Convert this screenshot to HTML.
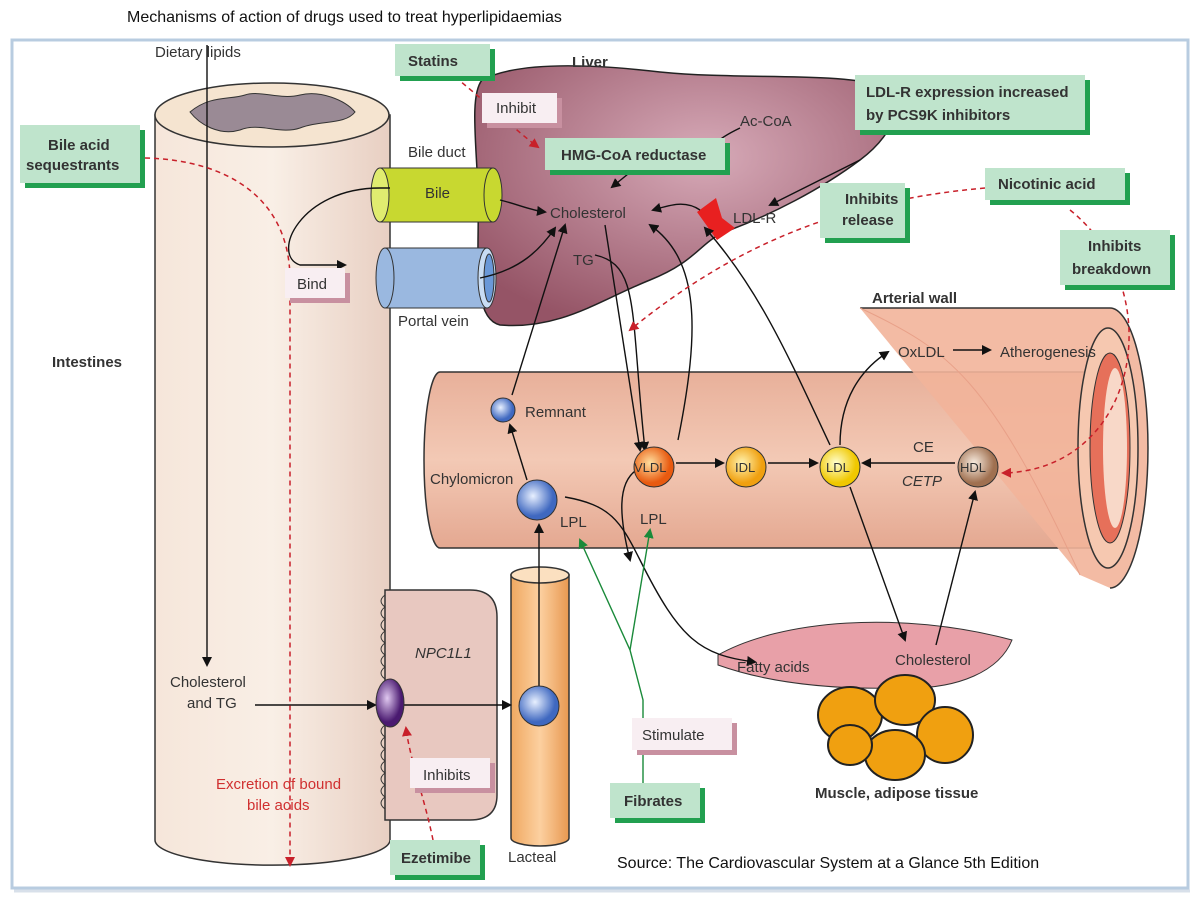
<!DOCTYPE html><html><head><style>body{margin:0;background:#fff}svg{display:block}text{font-family:"Liberation Sans",sans-serif;fill:#333}</style></head><body>
<svg width="1200" height="899" viewBox="0 0 1200 899" xmlns="http://www.w3.org/2000/svg">
<defs>
<marker id="a" markerWidth="10" markerHeight="10" refX="8" refY="5" orient="auto" markerUnits="userSpaceOnUse"><path d="M0,0 L10,5 L0,10 Z" fill="#111"/></marker>
<marker id="r" markerWidth="10" markerHeight="10" refX="8" refY="5" orient="auto" markerUnits="userSpaceOnUse"><path d="M0,0 L10,5 L0,10 Z" fill="#c8202a"/></marker>
<marker id="g" markerWidth="10" markerHeight="10" refX="8" refY="5" orient="auto" markerUnits="userSpaceOnUse"><path d="M0,0 L10,5 L0,10 Z" fill="#1a8a3a"/></marker>
<radialGradient id="liv" cx="0.55" cy="0.35" r="0.7"><stop offset="0" stop-color="#d7aab8"/><stop offset="1" stop-color="#955466"/></radialGradient>
<linearGradient id="int" x1="0" x2="1"><stop offset="0" stop-color="#f6e6da"/><stop offset="0.5" stop-color="#f9efe6"/><stop offset="1" stop-color="#e8cfc2"/></linearGradient>
<linearGradient id="ves" x1="0" y1="0" x2="0" y2="1"><stop offset="0" stop-color="#e8b09a"/><stop offset="0.5" stop-color="#f3c9b5"/><stop offset="1" stop-color="#e4a891"/></linearGradient>
<radialGradient id="blue" cx="0.4" cy="0.4"><stop offset="0" stop-color="#e8f0ff"/><stop offset="1" stop-color="#3f68c0"/></radialGradient>
<radialGradient id="or" cx="0.4" cy="0.4"><stop offset="0" stop-color="#ffe0a0"/><stop offset="1" stop-color="#e85a10"/></radialGradient>
<radialGradient id="idl" cx="0.4" cy="0.4"><stop offset="0" stop-color="#fff4b0"/><stop offset="1" stop-color="#f0a010"/></radialGradient>
<radialGradient id="ldl" cx="0.4" cy="0.4"><stop offset="0" stop-color="#ffffd0"/><stop offset="1" stop-color="#f0c800"/></radialGradient>
<radialGradient id="hdl" cx="0.4" cy="0.4"><stop offset="0" stop-color="#f8ece0"/><stop offset="1" stop-color="#a07050"/></radialGradient>
<radialGradient id="pur" cx="0.4" cy="0.4"><stop offset="0" stop-color="#e0c8f0"/><stop offset="1" stop-color="#4a1a70"/></radialGradient>
<linearGradient id="lac" x1="0" x2="1"><stop offset="0" stop-color="#f0a860"/><stop offset="0.5" stop-color="#fcd0a0"/><stop offset="1" stop-color="#e89850"/></linearGradient>
</defs>
<text x="127" y="22" font-size="16" style="fill:#111">Mechanisms of action of drugs used to treat hyperlipidaemias</text>
<rect x="12" y="40" width="1176" height="848" fill="#fff" stroke="#b8cce0" stroke-width="3"/>
<line x1="14" y1="891" x2="1190" y2="891" stroke="#d8e0ea" stroke-width="3"/>
<!-- intestine -->
<path d="M155,115 L155,840 A117,25 0 0 0 390,840 L390,115 Z" fill="url(#int)" stroke="#333" stroke-width="1.5"/>
<ellipse cx="272" cy="115" rx="117" ry="32" fill="#f5e4d0" stroke="#333" stroke-width="1.5"/>
<path d="M190,112 C210,95 230,100 245,95 C260,90 280,100 300,95 C320,90 345,100 355,112 C345,125 320,120 300,128 C280,135 260,122 240,130 C220,136 200,125 190,112Z" fill="#9a8a95" stroke="#333"/>
<!-- enterocyte box -->
<path d="M385,590 L470,590 Q497,590 497,617 L497,795 Q497,820 470,820 L385,820 Z" fill="#e8c8c0" stroke="#333" stroke-width="1.5"/>
<path d="M385,595 q-8,6 0,12 q-8,6 0,12 q-8,6 0,12 q-8,6 0,12 q-8,6 0,12 q-8,6 0,12 q-8,6 0,12" fill="none" stroke="#333"/>
<path d="M385,725 q-8,6 0,12 q-8,6 0,12 q-8,6 0,12 q-8,6 0,12 q-8,6 0,12 q-8,6 0,12 q-8,6 0,12" fill="none" stroke="#333"/>
<!-- lacteal -->
<path d="M511,575 L511,838 A29,8 0 0 0 569,838 L569,575 Z" fill="url(#lac)" stroke="#333" stroke-width="1.5"/>
<ellipse cx="540" cy="575" rx="29" ry="8" fill="#fbe0c0" stroke="#333" stroke-width="1.5"/>
<!-- liver -->
<path d="M482,80 C520,60 600,65 660,72 C740,80 830,72 880,85 C905,95 900,130 860,160 C820,190 770,215 730,230 C700,240 700,260 650,280 C600,300 560,330 500,325 C470,318 480,250 478,190 C476,140 470,95 482,80Z" fill="url(#liv)" stroke="#222" stroke-width="1.5"/>
<!-- vessel -->
<path d="M440,372 L1110,372 L1110,548 L440,548 A16,88 0 0 1 440,372Z" fill="url(#ves)" stroke="#333" stroke-width="1.5"/>
<!-- arterial wall -->
<path d="M860,308 L1110,308 A38,140 0 0 1 1110,588 L1080,575 Z" fill="#f2b49a" opacity="0.9"/>
<path d="M860,308 L1110,308 A38,140 0 0 1 1110,588" fill="none" stroke="#333" stroke-width="1.5"/>
<path d="M860,308 C950,350 990,380 1080,575" fill="none" stroke="#e8a088" stroke-width="1"/>
<ellipse cx="1108" cy="448" rx="30" ry="120" fill="#f6c8b0" stroke="#333" stroke-width="1.5"/>
<ellipse cx="1110" cy="448" rx="20" ry="95" fill="#e6705a" stroke="#333"/>
<ellipse cx="1115" cy="448" rx="12" ry="80" fill="#f8d8c8"/>
<!-- muscle/adipose -->
<path d="M718,655 C780,620 900,610 1012,640 C1000,670 960,690 900,688 C820,690 760,680 718,665Z" fill="#e8a0a8" stroke="#333"/>
<g fill="#f0a010" stroke="#222" stroke-width="2">
<ellipse cx="850" cy="715" rx="32" ry="28"/><ellipse cx="905" cy="700" rx="30" ry="25"/><ellipse cx="945" cy="735" rx="28" ry="28"/><ellipse cx="895" cy="755" rx="30" ry="25"/><ellipse cx="850" cy="745" rx="22" ry="20"/></g>
<!-- bile & portal vein tubes -->
<path d="M380,168 L493,168 L493,222 L380,222 Z" fill="#c8d830" stroke="#333"/>
<ellipse cx="380" cy="195" rx="9" ry="27" fill="#e0ec70" stroke="#333"/>
<ellipse cx="493" cy="195" rx="9" ry="27" fill="#c8d830" stroke="#333"/>
<path d="M385,248 L487,248 L487,308 L385,308 Z" fill="#9ab8e0" stroke="#333"/>
<ellipse cx="385" cy="278" rx="9" ry="30" fill="#9ab8e0" stroke="#333"/>
<ellipse cx="487" cy="278" rx="9" ry="30" fill="#c8dcf4" stroke="#333"/>
<ellipse cx="489" cy="278" rx="5" ry="24" fill="#6a98d8" stroke="#333"/>
<!-- LDL-R -->
<path d="M697,212 L716,198 L722,218 L735,228 L717,240 Z" fill="#e82020"/>
<!-- black arrows -->
<g fill="none" stroke="#111" stroke-width="1.4" marker-end="url(#a)">
<line x1="207" y1="45" x2="207" y2="665"/>
<line x1="255" y1="705" x2="375" y2="705"/>
<line x1="404" y1="705" x2="510" y2="705"/>
<line x1="539" y1="686" x2="539" y2="525"/>
<line x1="527" y1="480" x2="510" y2="425"/>
<line x1="512" y1="395" x2="565" y2="225"/>
<path d="M740,128 C715,140 705,150 712,160" marker-end="" />
<line x1="655" y1="152" x2="612" y2="187"/>
<path d="M390,188 L380,188 C300,188 270,255 300,265 L345,265" marker-end=""/>
<path d="M500,200 C520,205 530,210 545,212" marker-end=""/>
<path d="M480,278 C520,270 540,250 555,228"/>
<path d="M700,210 C685,200 670,205 653,210"/>
<path d="M605,225 L640,450"/>
<path d="M595,255 C640,265 630,310 645,450"/>
<path d="M678,440 C700,330 700,260 650,225"/>
<path d="M830,445 C790,360 760,290 705,228"/>
<path d="M860,160 L770,205"/>
<line x1="676" y1="463" x2="723" y2="463"/>
<line x1="768" y1="463" x2="817" y2="463"/>
<line x1="955" y1="463" x2="863" y2="463"/>
<path d="M840,445 C840,400 860,370 888,352"/>
<line x1="953" y1="350" x2="990" y2="350"/>
<line x1="850" y1="487" x2="905" y2="640"/>
<line x1="936" y1="645" x2="975" y2="492"/>
<path d="M565,497 C610,505 620,520 640,560 C680,640 700,655 755,662"/>
<path d="M640,468 C615,480 620,520 630,560" marker-end=""/>
</g>
<!-- green -->
<g fill="none" stroke="#1a8a3a" stroke-width="1.4">
<path d="M643,783 L643,700 L630,650 L580,540" marker-end="url(#g)"/>
<path d="M630,650 L650,530" marker-end="url(#g)"/>
</g>
<!-- red dashed -->
<g fill="none" stroke="#c8202a" stroke-width="1.5" stroke-dasharray="5,4" marker-end="url(#r)">
<path d="M145,158 C230,160 290,200 290,280 L290,865"/>
<path d="M455,77 C490,105 515,130 538,147"/>
<path d="M985,188 C850,200 740,240 630,330"/>
<path d="M1070,210 C1170,290 1140,470 1003,473"/>
<path d="M433,840 C425,800 410,760 406,728"/>
</g>
<!-- circles -->
<circle cx="503" cy="410" r="12" fill="url(#blue)" stroke="#333"/>
<circle cx="537" cy="500" r="20" fill="url(#blue)" stroke="#333"/>
<circle cx="539" cy="706" r="20" fill="url(#blue)" stroke="#333"/>
<circle cx="654" cy="467" r="20" fill="url(#or)" stroke="#333"/>
<circle cx="746" cy="467" r="20" fill="url(#idl)" stroke="#333"/>
<circle cx="840" cy="467" r="20" fill="url(#ldl)" stroke="#333"/>
<circle cx="978" cy="467" r="20" fill="url(#hdl)" stroke="#333"/>
<ellipse cx="390" cy="703" rx="14" ry="24" fill="url(#pur)" stroke="#333"/>
<!-- green boxes -->
<g stroke="none">
<rect x="400" y="49" width="95" height="32" fill="#22a050"/><rect x="395" y="44" width="95" height="32" fill="#bfe4cc"/>
<rect x="25" y="130" width="120" height="58" fill="#22a050"/><rect x="20" y="125" width="120" height="58" fill="#bfe4cc"/>
<rect x="550" y="143" width="180" height="32" fill="#22a050"/><rect x="545" y="138" width="180" height="32" fill="#bfe4cc"/>
<rect x="860" y="80" width="230" height="55" fill="#22a050"/><rect x="855" y="75" width="230" height="55" fill="#bfe4cc"/>
<rect x="990" y="173" width="140" height="32" fill="#22a050"/><rect x="985" y="168" width="140" height="32" fill="#bfe4cc"/>
<rect x="825" y="188" width="85" height="55" fill="#22a050"/><rect x="820" y="183" width="85" height="55" fill="#bfe4cc"/>
<rect x="1065" y="235" width="110" height="55" fill="#22a050"/><rect x="1060" y="230" width="110" height="55" fill="#bfe4cc"/>
<rect x="615" y="788" width="90" height="35" fill="#22a050"/><rect x="610" y="783" width="90" height="35" fill="#bfe4cc"/>
<rect x="395" y="845" width="90" height="35" fill="#22a050"/><rect x="390" y="840" width="90" height="35" fill="#bfe4cc"/>
<rect x="487" y="98" width="75" height="30" fill="#c890a0"/><rect x="482" y="93" width="75" height="30" fill="#f8eef2"/>
<rect x="290" y="273" width="60" height="30" fill="#c890a0"/><rect x="285" y="268" width="60" height="30" fill="#f8eef2"/>
<rect x="637" y="723" width="100" height="32" fill="#c890a0"/><rect x="632" y="718" width="100" height="32" fill="#f8eef2"/>
<rect x="415" y="763" width="80" height="30" fill="#c890a0"/><rect x="410" y="758" width="80" height="30" fill="#f8eef2"/>
</g>
<g font-size="15" font-weight="bold" style="fill:#111">
<text x="408" y="66">Statins</text>
<text x="48" y="150">Bile acid</text><text x="26" y="170">sequestrants</text>
<text x="561" y="160">HMG-CoA reductase</text>
<text x="866" y="97">LDL-R expression increased</text><text x="866" y="120">by PCS9K inhibitors</text>
<text x="998" y="189">Nicotinic acid</text>
<text x="845" y="204">Inhibits</text><text x="842" y="225">release</text>
<text x="1088" y="251">Inhibits</text><text x="1072" y="274">breakdown</text>
<text x="624" y="806">Fibrates</text>
<text x="401" y="863">Ezetimibe</text>
<text x="52" y="367">Intestines</text>
<text x="572" y="67">Liver</text>
<text x="872" y="303">Arterial wall</text>
<text x="815" y="798">Muscle, adipose tissue</text>
</g>
<g font-size="15" style="fill:#333">
<text x="496" y="113">Inhibit</text><text x="297" y="289">Bind</text><text x="642" y="740">Stimulate</text><text x="423" y="780">Inhibits</text>
<text x="155" y="57">Dietary lipids</text>
<text x="408" y="157">Bile duct</text>
<text x="425" y="198">Bile</text>
<text x="398" y="326">Portal vein</text>
<text x="550" y="218">Cholesterol</text>
<text x="573" y="265">TG</text>
<text x="740" y="126">Ac-CoA</text>
<text x="733" y="223">LDL-R</text>
<text x="525" y="417">Remnant</text>
<text x="430" y="484">Chylomicron</text>
<text x="560" y="527">LPL</text><text x="640" y="524">LPL</text>
<text x="634" y="472" font-size="13">VLDL</text><text x="735" y="472" font-size="13">IDL</text><text x="826" y="472" font-size="13">LDL</text><text x="960" y="472" font-size="13">HDL</text>
<text x="913" y="452">CE</text><text x="902" y="486" font-style="italic">CETP</text>
<text x="898" y="357">OxLDL</text><text x="1000" y="357">Atherogenesis</text>
<text x="737" y="672">Fatty acids</text><text x="895" y="665">Cholesterol</text>
<text x="170" y="687">Cholesterol</text><text x="187" y="708">and TG</text>
<text x="415" y="658" font-style="italic">NPC1L1</text>
<text x="508" y="862">Lacteal</text>
</g>
<text x="216" y="789" font-size="15" style="fill:#d03030">Excretion of bound</text>
<text x="247" y="810" font-size="15" style="fill:#d03030">bile acids</text>
<text x="617" y="868" font-size="16" style="fill:#111">Source: The Cardiovascular System at a Glance 5th Edition</text>
</svg>
</body></html>
